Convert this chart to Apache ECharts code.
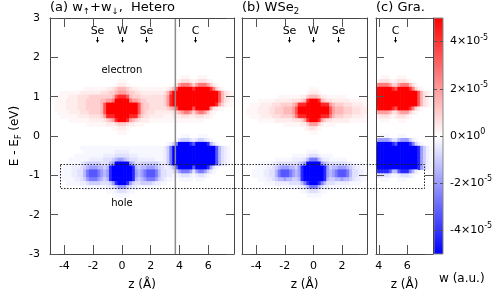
<!DOCTYPE html>
<html><head><meta charset="utf-8">
<script src="https://cdn.jsdelivr.net/npm/echarts@6/dist/echarts.min.js"></script>
<style>html,body{margin:0;padding:0;background:#fff}#c{width:498px;height:299px}</style>
</head><body><div id="c"></div>
<script>
// ---------------- data ----------------
// heat-map cells: every row = [E (eV), levels every 0.2 Å starting at the panel's first z]
// level codes, in units of 1e-5 (a.u.); '#' = saturated colour
const LEVEL = {'1':0.15,'2':0.35,'3':0.6,'4':0.95,'5':1.4,'6':1.9,'7':2.6,'8':3.3,'9':4.2,'#':5.0};
const DZ = 0.2, DE = 0.1;

const heteroZ0 = -5.0;
const heteroElectron = [
 [1.5, "00000 00000 00000 00000 00000 00000 00000 00000 00000 01110 00111"],
 [1.4, "00000 00000 00000 00000 00001 11000 00000 00000 00001 23332 12333 21000"],
 [1.3, "00000 00000 00000 00000 00012 22100 00000 00000 00013 67776 46777 64210"],
 [1.2, "00000 00000 00111 11111 22345 55432 21111 11111 12358 ##### 9#### #9742 10000"],
 [1.1, "00001 11111 12222 22233 34456 66544 33222 22222 358## ##### ##### ####8 53211"],
 [1.0, "00111 11222 33334 44444 44589 99854 44333 33333 469## ##### ##### ####8 53211"],
 [0.9, "00111 12222 33344 44455 667## ###76 65443 33333 469## ##### ##### ####8 53211"],
 [0.8, "00111 12222 33344 44458 ##### ##### #8544 33333 469## ##### ##### ###96 42110"],
 [0.7, "00111 12222 33344 44458 ##### ##### #8544 33333 34568 ##### 8#### #6321 10000"],
 [0.6, "00011 11222 23334 44458 ##### ##### #8543 33222 22234 56776 46776 42100"],
 [0.5, "00001 11111 22223 33346 999## ###99 96433 22222 11122 23332 23332 21000"],
 [0.4, "00000 00111 11112 22223 4569# ##965 43222 11111 11111 11111 11110"],
 [0.3, "00000 00000 00011 11111 22234 44322 11100"],
 [0.2, "00000 00000 00000 00000 00112 22100"],
 [0.1, "00000 00000 00000 00000 00001 11000"]
];
const heteroHole = [
 [0.0,  "00000 00000 00000 00000 00000 00000 00000 00000 00000 01110 00111"],
 [-0.1, "00000 00000 00000 00000 00000 00000 00000 00000 00001 34443 23443 21000"],
 [-0.2, "00000 00000 00000 00000 00000 00000 00000 00000 01247 ####9 8#### 95310"],
 [-0.3, "00000 00000 01111 11111 11111 11111 11111 11111 247## ##### ##### ###85 32100"],
 [-0.4, "00000 00000 00111 11111 11122 22211 11111 11111 247## ##### ##### ###85 32100"],
 [-0.5, "00000 00001 11111 11112 22233 33322 21111 11111 247## ##### ##### ###85 32100"],
 [-0.6, "00000 00111 11112 22223 33456 65433 32222 22111 247## ##### ##### ###85 32100"],
 [-0.7, "00000 01111 12344 44433 356## ###65 33444 44432 247## ##### ##### ###85 32100"],
 [-0.8, "00001 11122 23456 66554 59### ####9 54556 66543 22358 ##### 8#### 96310"],
 [-0.9, "00011 11122 33578 88765 69### ####9 65678 88753 32234 67776 36776 42100"],
 [-1.0, "00011 11122 33578 88765 69### ####9 65678 88753 32211 23332 12332 10000"],
 [-1.1, "00001 11112 23467 77654 59### ####9 54567 77643 21100 11111 01110"],
 [-1.2, "00000 01111 12234 44433 3469# ##964 33444 43221 10000"],
 [-1.3, "00000 00000 00111 11111 22346 66432 21111 11000"],
 [-1.4, "00000 00000 00000 00000 11123 33211"],
 [-1.5, "00000 00000 00000 00000 00011 11100"]
];

const wse2Z0 = -5.0;
const wse2Electron = [
 [1.2, "00000 00000 00000 00000 00001 11000"],
 [1.1, "00000 00000 00000 00000 00012 22100"],
 [1.0, "00000 00000 00011 11111 12245 55422 11111 11000"],
 [0.9, "00000 01111 11222 22233 3459# ##954 33222 22211 11110"],
 [0.8, "00011 11222 23334 44456 999## ###99 96544 43332 22211"],
 [0.7, "00111 12222 33444 55568 ##### ##### #8655 54443 33222"],
 [0.6, "00111 12222 33444 55568 ##### ##### #8655 54443 33222"],
 [0.5, "00011 11222 23334 44457 999## ###99 97544 43332 22211"],
 [0.4, "00000 01111 11222 22233 3469# ##964 33222 22211 11110"],
 [0.3, "00000 00000 00000 11111 12246 66421 11100"],
 [0.2, "00000 00000 00000 00000 00123 32100"],
 [0.1, "00000 00000 00000 00000 00001 11000"]
];
const wse2Hole = [
 [-0.4, "00000 00000 00000 00000 00011 11000"],
 [-0.5, "00000 00000 00000 00011 11123 33211 11000"],
 [-0.6, "00000 00000 00111 11122 22357 77532 21111 11000"],
 [-0.7, "00000 01111 12233 33333 456## ###65 43333 33221 11100"],
 [-0.8, "00000 11112 23456 66554 69### ####9 64556 66543 22111"],
 [-0.9, "00001 11122 33578 88765 69### ####9 65678 88753 32211"],
 [-1.0, "00001 11122 33578 88765 69### ####9 65678 88753 32211"],
 [-1.1, "00000 01112 23455 65544 59### ####9 54455 65543 22111"],
 [-1.2, "00000 00011 11222 22333 3579# ##975 33322 22211 11000"],
 [-1.3, "00000 00000 00000 11111 22357 77532 21111 11000"],
 [-1.4, "00000 00000 00000 00000 01123 33211"],
 [-1.5, "00000 00000 00000 00000 00011 11100"]
];

const graZ0 = 3.6;
const graElectron = [
 [1.5, "00 01110 00111"],
 [1.4, "01 23332 12333 21000"],
 [1.3, "25 77776 44677 75310"],
 [1.2, "69 ##### 98### #9742 10000"],
 [1.1, "9# ##### ##### ####8 53210"],
 [1.0, "9# ##### ##### ####8 53210"],
 [0.9, "9# ##### ##### ####8 53210"],
 [0.8, "9# ##### ##### ####8 53210"],
 [0.7, "69 ##### 98### #9742 10000"],
 [0.6, "24 66665 33566 64210"],
 [0.5, "01 23332 12333 21000"],
 [0.4, "00 01110 00111"]
];
const graHole = [
 [0.0,  "00 01110 00111"],
 [-0.1, "24 66665 33566 64210"],
 [-0.2, "69 ##### 98### #9742 10000"],
 [-0.3, "9# ##### ##### ####9 64210"],
 [-0.4, "9# ##### ##### ####9 64210"],
 [-0.5, "9# ##### ##### ####9 64210"],
 [-0.6, "9# ##### ##### ####9 64210"],
 [-0.7, "9# ##### ##### ####9 64210"],
 [-0.8, "9# ##### ##### ####9 64210"],
 [-0.9, "58 99998 55899 97520"],
 [-1.0, "12 33332 11233 32100"],
 [-1.1, "00 01110 00111"]
];

// axes
const energyRange = [-3, 3];
const zRanges = [[-5, 7.8], [-5, 3.75], [3.8, 7.8]];
const zTicks = [[-4, -2, 0, 2, 4, 6], [-4, -2, 0, 2], [4, 6]];
const cbRange = [-5, 5];           // colour range, 1e-5 units
const cbTicks = [-4, -2, 0, 2, 4];
// annotations
const interfaceZ = 3.72;
const atomsHetero = [['Se', -1.7], ['W', 0], ['Se', 1.7], ['C', 5.1]];
const atomsWSe2 = [['Se', -1.7], ['W', 0], ['Se', 1.7]];
const atomsGra = [['C', 5.15]];
const regionLabels = [['electron', 0, 1.68], ['hole', 0, -1.71]];
const boxZ = [-4.3, 7.17];   // left edge in panel (a), right edge in panel (c)
const boxE = [-1.33, -0.72];

// ---------------- build ----------------
function decode(rows, z0, sign) {
  const out = [];
  rows.forEach(([e, s]) => {
    const cells = s.replace(/ /g, '');
    for (let i = 0; i < cells.length; i++) {
      const v = LEVEL[cells[i]];
      if (v) out.push([+(z0 + i * DZ).toFixed(2), e, sign * v]);
    }
  });
  return out;
}
const heatData = [
  decode(heteroElectron, heteroZ0, 1).concat(decode(heteroHole, heteroZ0, -1)),
  decode(wse2Electron, wse2Z0, 1).concat(decode(wse2Hole, wse2Z0, -1)),
  decode(graElectron, graZ0, 1).concat(decode(graHole, graZ0, -1))
];

const FONT = 'DejaVu Sans';
const AX = '#444';
const TOP = 18, H = 236;
const gridPos = [{left: 50, width: 184}, {left: 242, width: 125}, {left: 376, width: 57}];

function cellItem(params, api) {
  const z = api.value(0), e = api.value(1);
  const a = api.coord([z - DZ / 2, e + DE / 2]);
  const b = api.coord([z + DZ / 2, e - DE / 2]);
  const cs = params.coordSys;
  const shape = echarts.graphic.clipRectByRect(
    {x: a[0], y: a[1], width: b[0] - a[0] + 0.6, height: b[1] - a[1] + 0.6},
    {x: cs.x, y: cs.y, width: cs.width, height: cs.height});
  if (!shape) return;
  return {type: 'rect', shape: shape, style: {fill: api.visual('color')}};
}
function atomItem(list) {
  return function (params, api) {
    const p = api.coord([api.value(0), api.value(1)]);
    const x = Math.round(p[0]) + 0.5, y = p[1];
    return {type: 'group', children: [
      {type: 'text', x: x, y: y + 13, style: {text: list[params.dataIndex][0], fill: '#000',
        font: '11px "DejaVu Sans"', align: 'center', verticalAlign: 'middle', textAlign: 'center', textVerticalAlign: 'middle'}},
      {type: 'line', shape: {x1: x, y1: y + 19, x2: x, y2: y + 24}, style: {stroke: '#000', lineWidth: 1}},
      {type: 'polygon', shape: {points: [[x - 1.5, y + 22], [x + 1.5, y + 22], [x, y + 25]]}, style: {fill: '#000'}}
    ]};
  };
}
function regionItem(params, api) {
  const p = api.coord([api.value(0), api.value(1)]);
  return {type: 'text', x: p[0], y: p[1], style: {text: regionLabels[params.dataIndex][0], fill: '#000',
    font: '10px "DejaVu Sans"', align: 'center', verticalAlign: 'middle', textAlign: 'center', textVerticalAlign: 'middle'}};
}

const grids = gridPos.map(g => ({left: g.left, width: g.width, top: TOP, height: H}));
grids.push({left: 434, width: 9, top: TOP, height: H, show: true, borderColor: '#888', borderWidth: 1,
  backgroundColor: new echarts.graphic.LinearGradient(0, 0, 0, 1, [
    {offset: 0, color: '#ff0000'}, {offset: 0.5, color: '#ffffff'}, {offset: 1, color: '#0000ff'}])});

const lineStyle = {color: AX, width: 1};
const tickStyle = {color: '#555', width: 1};
const xAxes = [], yAxes = [];
zRanges.forEach((r, i) => {
  xAxes.push({gridIndex: i, type: 'value', min: r[0], max: r[1], position: 'bottom', z: 10,
    axisLine: {show: true, onZero: false, lineStyle},
    axisTick: {show: true, inside: true, length: 9, customValues: zTicks[i], lineStyle: tickStyle},
    axisLabel: {customValues: zTicks[i], margin: 7, fontSize: 11, color: '#000', fontFamily: FONT},
    splitLine: {show: false},
    name: 'z (Å)', nameLocation: 'middle', nameGap: 25,
    nameTextStyle: {fontSize: 12, color: '#000', fontFamily: FONT}});
  xAxes.push({gridIndex: i, type: 'value', min: r[0], max: r[1], position: 'top', z: 10,
    axisLine: {show: true, onZero: false, lineStyle},
    axisTick: {show: true, inside: true, length: 9, customValues: zTicks[i], lineStyle: tickStyle},
    axisLabel: {show: false}, splitLine: {show: false}});
  const left = {gridIndex: i, type: 'value', min: energyRange[0], max: energyRange[1], interval: 1,
    position: 'left', z: 10,
    axisLine: {show: true, onZero: false, lineStyle},
    axisTick: {show: true, inside: true, length: 8, lineStyle: tickStyle},
    axisLabel: {show: i === 0, margin: 10, fontSize: 11, color: '#000', fontFamily: FONT},
    splitLine: {show: false}};
  if (i === 0) {
    left.name = 'E - E{sub|F} (eV)';
    left.nameLocation = 'middle';
    left.nameGap = 27;
    left.nameTextStyle = {fontSize: 12, color: '#000', fontFamily: FONT, lineHeight: 16,
      rich: {sub: {fontSize: 8, fontFamily: FONT, color: '#000', verticalAlign: 'bottom', lineHeight: 8}}};
  }
  yAxes.push(left);
  yAxes.push({gridIndex: i, type: 'value', min: energyRange[0], max: energyRange[1], interval: 1,
    position: 'right', z: 10,
    axisLine: {show: true, onZero: false, lineStyle},
    axisTick: {show: true, inside: true, length: 8, lineStyle: tickStyle},
    axisLabel: {show: false}, splitLine: {show: false}});
});
xAxes.push({gridIndex: 3, type: 'value', show: false, min: 0, max: 1});
yAxes.push({gridIndex: 3, type: 'value', min: cbRange[0], max: cbRange[1], position: 'left', z: 10,
  axisLine: {show: false}, axisTick: {show: true, inside: true, length: 3, customValues: cbTicks, lineStyle: {color: '#555'}},
  axisLabel: {show: false}, splitLine: {show: false}});
yAxes.push({gridIndex: 3, type: 'value', min: cbRange[0], max: cbRange[1], position: 'right', z: 10,
  axisLine: {show: false}, axisTick: {show: true, inside: true, length: 3, customValues: cbTicks, lineStyle: {color: '#555'}},
  axisLabel: {customValues: cbTicks, margin: 7, fontSize: 11, color: '#000', fontFamily: FONT, lineHeight: 16,
    formatter: v => v === 0 ? '0×10{sup|0}' : v + '×10{sup|-5}',
    rich: {sup: {fontSize: 8, fontFamily: FONT, color: '#000', verticalAlign: 'top', lineHeight: 8}}},
  splitLine: {show: false}});

const series = [];
heatData.forEach((d, i) => {
  series.push({type: 'custom', xAxisIndex: 2 * i, yAxisIndex: 2 * i, data: d, encode: {x: 0, y: 1},
    renderItem: cellItem, silent: true, z: 2});
});
series.push({type: 'line', xAxisIndex: 0, yAxisIndex: 0, data: [[interfaceZ, energyRange[0]], [interfaceZ, energyRange[1]]],
  symbol: 'none', lineStyle: {color: '#8c8c8c', width: 1.5}, z: 5, silent: true});
[atomsHetero, atomsWSe2, atomsGra].forEach((list, i) => {
  series.push({type: 'custom', xAxisIndex: 2 * i, yAxisIndex: 2 * i, data: list.map(a => [a[1], energyRange[1]]),
    encode: {x: 0, y: 1}, renderItem: atomItem(list), silent: true, z: 6});
});
series.push({type: 'custom', xAxisIndex: 0, yAxisIndex: 0, data: regionLabels.map(r => [r[1], r[2]]),
  encode: {x: 0, y: 1}, renderItem: regionItem, silent: true, z: 6});

const subRich = {sub: {fontSize: 8.5, fontFamily: FONT, color: '#000', verticalAlign: 'bottom', lineHeight: 8}};
const titleStyle = {fontSize: 13, fontWeight: 'normal', color: '#000', fontFamily: FONT, lineHeight: 16, rich: subRich};

const chart = echarts.init(document.getElementById('c'));
chart.setOption({
  animation: false,
  textStyle: {fontFamily: FONT},
  title: [
    {text: '(a) w{sub|↑}+w{sub|↓},  Hetero', left: 50, top: 0, padding: 0, textStyle: titleStyle},
    {text: '(b) WSe{sub|2}', left: 242, top: 0, padding: 0, textStyle: titleStyle},
    {text: '(c) Gra.', left: 376, top: 0, padding: 0, textStyle: titleStyle}
  ],
  grid: grids,
  xAxis: xAxes,
  yAxis: yAxes,
  visualMap: {type: 'continuous', show: false, seriesIndex: [0, 1, 2], dimension: 2,
    min: cbRange[0], max: cbRange[1], inRange: {color: ['#0000ff', '#ffffff', '#ff0000']}},
  series: series
});

const p1 = chart.convertToPixel({xAxisIndex: 0, yAxisIndex: 0}, [boxZ[0], boxE[1]]);
const p2 = chart.convertToPixel({xAxisIndex: 4, yAxisIndex: 4}, [boxZ[1], boxE[0]]);
chart.setOption({graphic: [
  {type: 'rect', z: 100, silent: true,
    shape: {x: Math.round(p1[0]) + 0.5, y: Math.round(p1[1]) + 0.5, width: Math.round(p2[0] - p1[0]), height: Math.round(p2[1] - p1[1])},
    style: {fill: 'none', stroke: '#222', lineWidth: 1, lineDash: [1.5, 1.5]}},
  {type: 'text', left: 439, top: 273, z: 100, silent: true,
    style: {text: 'w (a.u.)', fill: '#000', font: '12px "DejaVu Sans"'}}
]});
</script>
</body></html>
